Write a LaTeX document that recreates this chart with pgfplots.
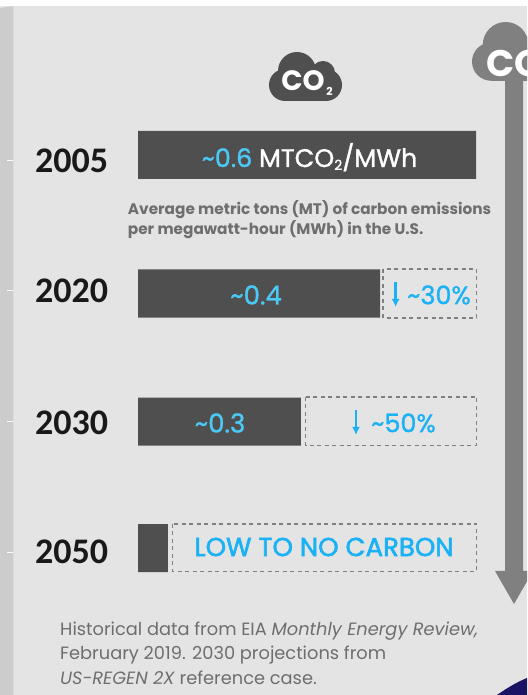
\documentclass[border=0pt]{standalone}
\usepackage{pgfplots}
\pgfplotsset{compat=1.18}
\usetikzlibrary{arrows.meta}
\usepackage{fontspec}
\setmainfont{Poppins}
\newfontfamily\yearfont{Carlito}
\newfontfamily\semi[FakeBold=1.2]{Poppins}
\newfontfamily\heavy[FakeBold=2.2]{Poppins}
\definecolor{panel}{HTML}{E4E4E4}
\definecolor{strip}{HTML}{CCCCCC}
\definecolor{bardark}{HTML}{4F4F4F}
\definecolor{arrowgrey}{HTML}{808080}
\definecolor{accent}{HTML}{1AB2F5}
\definecolor{accentlight}{HTML}{4CC8F5}
\definecolor{note}{HTML}{6E6E6E}
\definecolor{navy}{HTML}{1B1464}
% cloud outline: origin at the cloud's top-left corner, 73 wide and 50 high
\newcommand{\cloud}[4]{%
  \begin{scope}[shift={(#1,#2)},scale=#3,transform shape]
    \fill[#4] (28,19) circle[radius=19];
    \fill[#4] (54,21) circle[radius=12];
    \fill[#4] (16,33) circle[radius=16];
    \fill[#4] (57,33) circle[radius=16];
    \fill[#4] (16,27) rectangle (57,49);
  \end{scope}}
\begin{document}
\begin{tikzpicture}[x=1pt,y=1pt]
\path[use as bounding box] (0,0) rectangle (527,695);
\clip (0,0) rectangle (527,695);
\begin{scope}[yshift=695pt,y=-1pt]
  \fill[white] (0,0) rectangle (527,695);
  \fill[panel] (0,6) rectangle (527,695);
  \fill[strip] (0,8) -- (13.4,6) -- (13.4,695) -- (0,695) -- cycle;
  \foreach \y in {161,291,421.5,553} \draw[white,line width=1pt] (7,\y) -- (13.4,\y);
  \fill[navy] (497,695) .. controls (507,688) and (517,682) .. (527,678) -- (527,695) -- cycle;
  % downward arrow with its cloud
  \fill[arrowgrey] (505,70) -- (523,70) -- (523,571) -- (533,571) -- (514,604) -- (495,571) -- (505,571) -- cycle;
  \cloud{472}{22}{1.2}{arrowgrey}
  \node[anchor=west,inner sep=0,text=white,font=\bfseries\fontsize{37}{37}\selectfont] at (486,63) {CO};
  \cloud{269}{52}{1}{bardark}
  \node[inner sep=0,text=white,font=\bfseries\fontsize{28}{28}\selectfont] at (303,81) {CO};
  \node[inner sep=0,text=white,font=\bfseries\fontsize{11}{11}\selectfont] at (329.5,91) {2};
  % dashed remainder boxes
  \foreach \a/\b/\c/\d in {383/269/476.5/318, 305.5/397/476.5/445.5, 172.5/524/476.5/571.5}
    \draw[arrowgrey,line width=1.6pt,dash pattern=on 4pt off 3.5pt] (\a,\b) rectangle (\c,\d);
\end{scope}
% carbon intensity bars: x in MTCO2/MWh, y in vertical position down the panel
\begin{axis}[
  at={(0,0)},anchor=south west,scale only axis,width=527pt,height=695pt,
  hide axis,clip=false,
  xmin=-0.24497,xmax=0.69054,ymin=0,ymax=695,y dir=reverse]
\addplot[xbar,bar width=48pt,bar shift=0pt,fill=bardark,draw=none]
  coordinates {(0.60,155) (0.43,293.5) (0.289,421.5) (0.053,548)};
\end{axis}
\begin{scope}[yshift=695pt,y=-1pt]
  \foreach \y/\t in {161/2005,291/2020,423/2030,552/2050}
    \node[inner sep=0,text=black!90,font=\yearfont\bfseries\fontsize{36}{36}\selectfont] at (71.5,\y) {\t};
  \node[inner sep=0,font=\semi\fontsize{25.4}{25.4}\selectfont,anchor=base] at (309.5,167)
    {\textcolor{accentlight}{\textasciitilde 0.6} \textcolor{white}{MTCO\raisebox{-3pt}{\fontsize{14}{14}\selectfont 2}/MWh}};
  \node[inner sep=0,text=accentlight,font=\semi\fontsize{26}{26}\selectfont] at (256,295) {\textasciitilde 0.4};
  \node[inner sep=0,text=accentlight,font=\semi\fontsize{26}{26}\selectfont] at (220,423) {\textasciitilde 0.3};
  \foreach \x/\ya/\yb in {395.6/282/307, 356/410/435}
    \draw[accent,line width=2.6pt,-{Latex[length=8pt,width=8pt]}] (\x,\ya) -- (\x,\yb);
  \node[inner sep=0,text=accent,font=\semi\fontsize{25.5}{25.5}\selectfont,anchor=west] at (407,295) {\textasciitilde 30\%};
  \node[inner sep=0,text=accent,font=\semi\fontsize{25.5}{25.5}\selectfont,anchor=west] at (371,423) {\textasciitilde 50\%};
  \node[inner sep=0,text=accent,font=\heavy\fontsize{26}{26}\selectfont] at (324,547) {LOW TO NO CARBON};
  \node[inner sep=0,text=note,font=\bfseries\fontsize{15.3}{15.3}\selectfont,anchor=west] at (127.7,210) {Average metric tons (MT) of carbon emissions};
  \node[inner sep=0,text=note,font=\bfseries\fontsize{15.3}{15.3}\selectfont,anchor=west] at (127.7,230) {per megawatt-hour (MWh) in the U.S.};
  \node[inner sep=0,text=note,font=\fontsize{17.8}{17.8}\selectfont,anchor=west] at (60,631) {Historical data from EIA \textit{Monthly Energy Review,}};
  \node[inner sep=0,text=note,font=\fontsize{17.8}{17.8}\selectfont,anchor=west] at (60,655) {February 2019. 2030 projections from};
  \node[inner sep=0,text=note,font=\fontsize{17.8}{17.8}\selectfont,anchor=west] at (60,678) {\textit{US-REGEN 2X} reference case.};
\end{scope}
\end{tikzpicture}
\end{document}
